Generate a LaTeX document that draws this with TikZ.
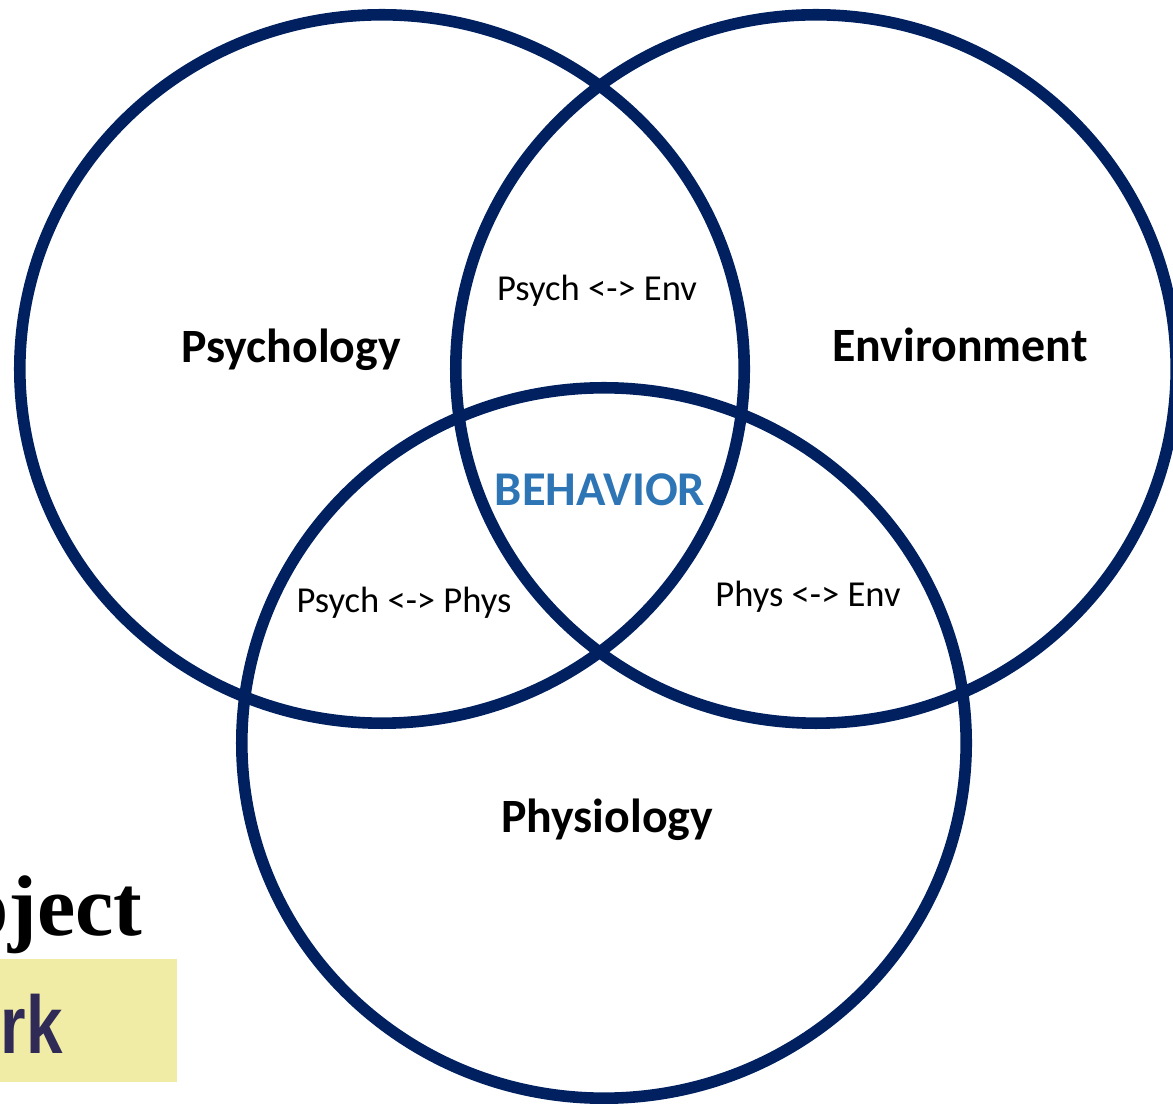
\documentclass[tikz,border=0pt]{standalone}
\usepackage{fontspec}
\setmainfont{Carlito}
\newfontfamily\titleserif{Liberation Serif}
\newfontfamily\bannersans{Liberation Sans}

\definecolor{vennblue}{HTML}{002060}
\definecolor{behavblue}{HTML}{2E75B6}
\definecolor{bannerbg}{HTML}{F0ECA5}
\definecolor{bannerfg}{HTML}{302A56}

\begin{document}
\begin{tikzpicture}[x=0.01cm, y=-0.01cm,
  every node/.style={inner sep=0pt},
  ring/.style={draw=vennblue, line width=3.3pt},
  area/.style={anchor=base, font=\fontsize{13.6}{16}\selectfont\bfseries},
  pair/.style={anchor=base, font=\fontsize{10.4}{12}\selectfont}]
  \useasboundingbox (0,0) rectangle (1173,1104);
  \clip (0,0) rectangle (1173,1104);
  %
  \draw[ring] (382,369) ellipse (3.62cm and 3.54cm);
  \draw[ring] (816,369) ellipse (3.60cm and 3.54cm);
  \draw[ring] (604,743) ellipse (3.62cm and 3.55cm);
  %
  \node[area] (psy) at (291,363) {Psychology};
  \node[area] (env) at (960,362) {Environment};
  \node[area] (phy) at (607,833) {Physiology};
  %
  \node[pair] (psyenv) at (597,301) {Psych <-> Env};
  \node[pair] (psyphy) at (404,613) {Psych <-> Phys};
  \node[pair] (phyenv) at (808,607) {Phys <-> Env};
  \node[area, text=behavblue, font=\fontsize{13.8}{16}\selectfont\bfseries] (beh) at (600,506) {BEHAVIOR};
  %
  \fill[bannerbg] (0,959) rectangle (177,1082);
  \node[anchor=base east, font=\titleserif\fontsize{24.5}{28}\selectfont\bfseries] (proj) at (143,935) {oject};
  \node[anchor=base west, xscale=0.8, text=bannerfg, font=\bannersans\fontsize{23.3}{26}\selectfont\bfseries] (frame) at (0,1053) {rk};
\end{tikzpicture}
\end{document}
